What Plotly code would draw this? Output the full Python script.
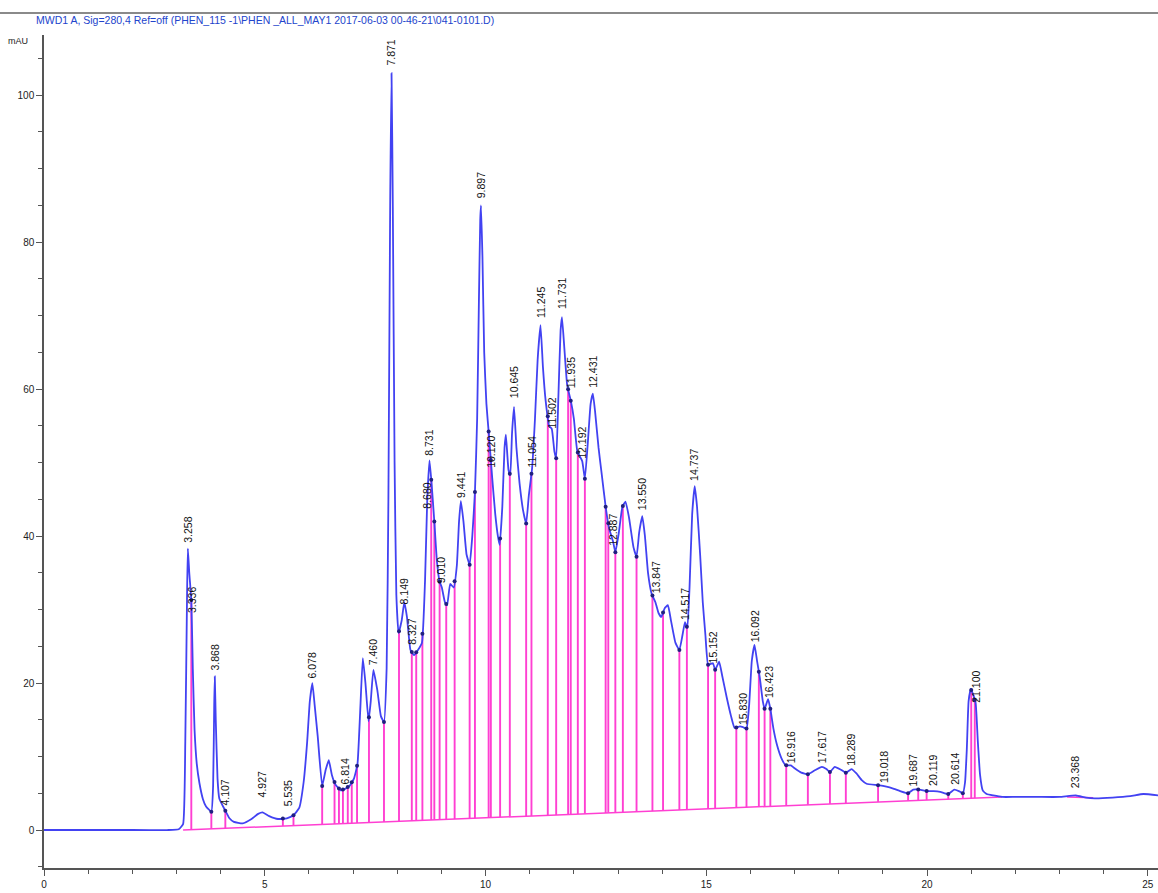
import numpy as np
import plotly.graph_objects as go

# ---- traced signal (retention time in min, absorbance in mAU) ----
sig_t = [0.00, 1.00, 2.00, 2.80, 3.05, 3.15, 3.20, 3.24, 3.258, 3.29, 3.336, 3.37, 3.41, 3.46, 3.52,
         3.60, 3.67, 3.79, 3.83, 3.855, 3.868, 3.89, 3.93, 3.97, 4.10, 4.20, 4.30, 4.50, 4.70, 4.85,
         4.95, 5.10, 5.30, 5.50, 5.65, 5.78, 5.88, 5.96, 6.02, 6.078, 6.13, 6.20, 6.30, 6.38, 6.45,
         6.52, 6.60, 6.72, 6.82, 6.92, 7.02, 7.10, 7.16, 7.22, 7.28, 7.35, 7.40, 7.46, 7.55, 7.63,
         7.70, 7.76, 7.80, 7.84, 7.871, 7.90, 7.94, 7.98, 8.03, 8.10, 8.16, 8.22, 8.30, 8.38, 8.47,
         8.56, 8.63, 8.68, 8.731, 8.78, 8.84, 8.90, 8.96, 9.01, 9.08, 9.13, 9.20, 9.28, 9.35, 9.40,
         9.441, 9.50, 9.57, 9.64, 9.70, 9.76, 9.81, 9.85, 9.88, 9.897, 9.93, 9.97, 10.02, 10.08, 10.15,
         10.22, 10.28, 10.32, 10.38, 10.43, 10.46, 10.52, 10.56, 10.60, 10.645, 10.70, 10.77, 10.85, 10.92, 10.98,
         11.054, 11.12, 11.18, 11.245, 11.30, 11.36, 11.44, 11.50, 11.56, 11.60, 11.65, 11.70, 11.731, 11.78, 11.85,
         11.935, 12.00, 12.08, 12.19, 12.25, 12.32, 12.38, 12.431, 12.48, 12.56, 12.63, 12.72, 12.80, 12.887, 12.94,
         13.02, 13.10, 13.17, 13.25, 13.35, 13.42, 13.48, 13.55, 13.61, 13.68, 13.76, 13.847, 13.92, 13.98, 14.06,
         14.13, 14.20, 14.30, 14.39, 14.46, 14.517, 14.57, 14.62, 14.68, 14.737, 14.79, 14.86, 14.92, 14.98, 15.04,
         15.10, 15.152, 15.20, 15.29, 15.36, 15.46, 15.56, 15.64, 15.76, 15.83, 15.91, 15.97, 16.03, 16.092, 16.15,
         16.21, 16.28, 16.32, 16.40, 16.45, 16.52, 16.60, 16.70, 16.80, 16.916, 17.00, 17.15, 17.30, 17.45, 17.617,
         17.72, 17.80, 17.91, 18.05, 18.16, 18.289, 18.40, 18.52, 18.63, 18.89, 19.08, 19.25, 19.39, 19.57, 19.687,
         19.83, 19.99, 20.15, 20.30, 20.48, 20.614, 20.72, 20.81, 20.86, 20.90, 20.94, 20.99, 21.04, 21.10, 21.15,
         21.20, 21.26, 21.35, 21.50, 21.70, 22.00, 22.50, 23.00, 23.368, 23.60, 23.80, 24.20, 24.60, 24.90, 25.25]
sig_mau = [0.0, 0.0, 0.0, 0.0, 0.1, 0.8, 12, 32, 38.3, 35, 31.3, 22, 13.6, 9.0, 6.4,
           4.2, 3.2, 2.5, 6, 17, 20.9, 15, 7, 4.3, 2.7, 1.6, 1.1, 0.9, 1.5, 2.2,
           2.4, 1.9, 1.5, 1.6, 2.0, 3.0, 6.5, 12, 17.5, 20.0, 17, 12.7, 6.0, 8.2, 9.5,
           7.5, 6.2, 5.4, 5.6, 6.0, 7.0, 9.0, 16, 23.4, 20, 14.8, 17.5, 21.8, 19, 15.5,
           14.7, 22, 45, 85, 103, 85, 50, 32, 26.8, 28.5, 31.0, 29, 24.5, 23.8, 24.5,
           25.5, 34, 45, 50.3, 47, 42, 36.5, 33.8, 33.0, 31.0, 30.6, 33.5, 33.0, 36, 42,
           44.8, 42, 37.5, 36.1, 40, 46, 56, 72, 83, 85.0, 78, 65, 58, 53.5, 48,
           43, 40, 38.8, 44, 52, 53.8, 49, 48.3, 54, 57.6, 52, 47.2, 43.5, 41.7, 45.5,
           49.2, 56, 64, 68.7, 63, 58.5, 55, 54.6, 51.5, 50.6, 59, 68, 69.8, 66, 60.5,
           58.3, 56, 51.5, 50.2, 47.8, 53, 58, 59.4, 57, 52, 48.5, 44, 41, 39.3, 37.8,
           40.5, 44, 44.7, 42.5, 38.5, 37.2, 40.5, 42.7, 40, 35, 32.2, 31.0, 29.5, 29.0, 30.2,
           30.6, 28.5, 25.5, 24.5, 26.5, 28.3, 27.5, 33, 43, 46.8, 44, 37.5, 31, 26.5, 22.5,
           22.6, 22.7, 21.8, 22.9, 21, 18.1, 15.5, 13.9, 14.1, 14.0, 13.8, 17, 23, 25.2, 23,
           20.8, 17.5, 16.5, 17.8, 16.5, 13.8, 11.6, 9.8, 8.8, 8.8, 8.4, 7.8, 7.6, 8.1, 8.6,
           8.3, 7.9, 8.6, 8.2, 7.8, 8.3, 7.7, 6.8, 6.3, 6.1, 5.9, 5.6, 5.3, 5.0, 5.5,
           5.5, 5.3, 5.3, 5.2, 4.9, 5.5, 5.3, 5.0, 6.5, 11, 17.5, 19.2, 18.5, 17.3, 12,
           7.5, 5.4, 4.9, 4.7, 4.5, 4.5, 4.5, 4.5, 4.7, 4.4, 4.3, 4.4, 4.6, 4.9, 4.7]

# ---- integration baseline ----
base_t = [3.15, 21.70]
base_mau = [0.0, 4.5]
base2_t = [23.17, 23.76]
base2_mau = [4.5, 4.4]

# ---- integration event (drop line) times ----
drop_t = [3.336, 3.79, 4.107, 5.41, 5.65, 6.30, 6.58, 6.68, 6.77, 6.88, 6.97, 7.09, 7.36, 7.70,
          8.04, 8.33, 8.43, 8.57, 8.77, 8.84, 8.96, 9.11, 9.30, 9.64, 9.76, 10.07, 10.12, 10.33,
          10.55, 10.92, 11.04, 11.41, 11.60, 11.87, 11.93, 12.09, 12.25, 12.72, 12.78, 12.94, 13.11,
          13.42, 13.78, 14.02, 14.39, 14.56, 15.04, 15.20, 15.68, 15.91, 16.19, 16.32, 16.45, 16.81,
          17.30, 17.80, 18.16, 18.89, 19.57, 19.80, 19.99, 20.48, 20.81, 21.00, 21.08]

# ---- peak labels (retention time text, height where label starts) ----
peak_rt = [3.258, 3.336, 3.868, 4.107, 4.927, 5.535, 6.078, 6.814, 7.460, 7.871, 8.149, 8.327,
           8.680, 8.731, 9.010, 9.441, 9.897, 10.120, 10.645, 11.054, 11.245, 11.502, 11.731,
           11.935, 12.192, 12.431, 12.887, 13.550, 13.847, 14.517, 14.737, 15.152, 15.830,
           16.092, 16.423, 16.916, 17.617, 18.289, 19.018, 19.687, 20.119, 20.614, 21.100, 23.368]
peak_label = ["3.258", "3.336", "3.868", "4.107", "4.927", "5.535", "6.078", "6.814", "7.460",
              "7.871", "8.149", "8.327", "8.680", "8.731", "9.010", "9.441", "9.897", "10.120",
              "10.645", "11.054", "11.245", "11.502", "11.731", "11.935", "12.192", "12.431",
              "12.887", "13.550", "13.847", "14.517", "14.737", "15.152", "15.830", "16.092",
              "16.423", "16.916", "17.617", "18.289", "19.018", "19.687", "20.119", "20.614",
              "21.100", "23.368"]
label_mau = [38.8, 29.3, 21.4, 3.1, 4.1, 3.0, 20.4, 5.9, 22.2, 103.7, 30.4, 24.9,
             43.5, 50.6, 33.3, 44.9, 85.7, 49.0, 58.5, 49.0, 69.4, 54.4, 70.7,
             59.9, 50.3, 59.9, 38.4, 43.3, 32.0, 28.3, 47.2, 22.4, 14.0,
             25.2, 17.7, 8.8, 8.8, 8.4, 6.1, 5.7, 5.7, 5.9, 17.0, 5.4]

x_ticks = [0, 5, 10, 15, 20, 25]
y_ticks = [0, 20, 40, 60, 80, 100]

title_text = "MWD1 A, Sig=280,4 Ref=off (PHEN_115 -1\\PHEN _ALL_MAY1 2017-06-03 00-46-21\\041-0101.D)"

# ---- build ----
W, H = 1158, 893
ML, MR, MT, MB = 44, 0, 35, 25
PW, PH = W - ML - MR, H - MT - MB

def px_to_paper_x(px):
    return (px - ML) / PW

def py_to_paper_y(py):
    return 1 - (py - MT) / PH

st = np.array(sig_t)
sy = np.array(sig_mau)

dx, dy, mx, my = [], [], [], []
for t in drop_t:
    b = float(np.interp(t, base_t, base_mau))
    top = float(np.interp(t, st, sy))
    dx += [t, t, None]
    dy += [b, top, None]
    mx.append(t)
    my.append(top)

fig = go.Figure()

PINK = "#ff3fd2"
BLUE = "#4242f2"

fig.add_trace(go.Scatter(x=dx, y=dy, mode="lines",
                         line=dict(color=PINK, width=1.9), hoverinfo="skip", showlegend=False))
fig.add_trace(go.Scatter(x=base_t, y=base_mau, mode="lines",
                         line=dict(color=PINK, width=1.5), showlegend=False))
fig.add_trace(go.Scatter(x=base2_t, y=base2_mau, mode="lines",
                         line=dict(color=PINK, width=1.5), showlegend=False))
fig.add_trace(go.Scatter(x=sig_t, y=sig_mau, mode="lines",
                         line=dict(color=BLUE, width=1.8, shape="spline", smoothing=0.4),
                         showlegend=False))
fig.add_trace(go.Scatter(x=mx, y=my, mode="markers",
                         marker=dict(color="#202080", size=4), showlegend=False))

for t, lab, h in zip(peak_rt, peak_label, label_mau):
    fig.add_annotation(x=t, y=h, xref="x", yref="y", text=lab, showarrow=False,
                       textangle=-90, xanchor="center", yanchor="bottom",
                       font=dict(family="Liberation Sans", size=10.5, color="#111111"))

# header text and line
fig.add_annotation(x=px_to_paper_x(34), y=py_to_paper_y(20), xref="paper", yref="paper",
                   text=title_text, showarrow=False, xanchor="left", yanchor="middle",
                   font=dict(family="Liberation Sans", size=10.5, color="#2244cc"))
fig.add_annotation(x=px_to_paper_x(30), y=py_to_paper_y(41), xref="paper", yref="paper",
                   text="mAU", showarrow=False, xanchor="right", yanchor="middle",
                   font=dict(family="Liberation Sans", size=9, color="#222222"))
fig.add_shape(type="line", xref="paper", yref="paper",
              x0=px_to_paper_x(0), x1=px_to_paper_x(W), y0=py_to_paper_y(13), y1=py_to_paper_y(13),
              line=dict(color="#8a8a8a", width=2))

fig.update_layout(
    width=W, height=H,
    margin=dict(l=ML, r=MR, t=MT, b=MB),
    paper_bgcolor="white", plot_bgcolor="white",
    font=dict(family="Liberation Sans", size=10, color="#222222"),
    showlegend=False,
)
fig.update_xaxes(range=[0, 25.23], tickvals=x_ticks, ticks="outside", ticklen=6,
                 tickcolor="#555555", showline=True, linecolor="#555555", linewidth=1.5,
                 showgrid=False, zeroline=False,
                 minor=dict(dtick=1, ticks="outside", ticklen=4, tickcolor="#555555"),
                 tickfont=dict(size=10))
fig.update_yaxes(range=[-5.17, 108.2], tickvals=y_ticks, ticks="outside", ticklen=6,
                 tickcolor="#555555", showline=True, linecolor="#555555", linewidth=1.5,
                 showgrid=False, zeroline=False,
                 minor=dict(dtick=5, ticks="outside", ticklen=4, tickcolor="#555555"),
                 tickfont=dict(size=10))

fig.write_html("out.html")
